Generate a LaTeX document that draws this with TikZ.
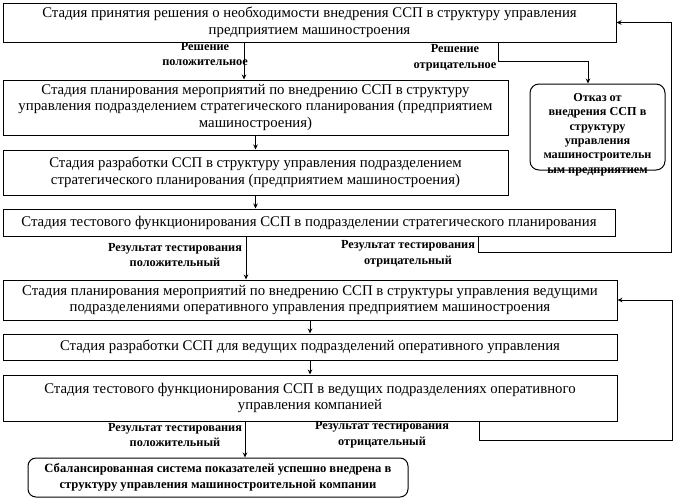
\documentclass[tikz,border=0pt]{standalone}
\usepackage{fontspec}
\setmainfont{Liberation Serif}
\usetikzlibrary{arrows.meta}

\tikzset{
  stagebox/.style={draw, line width=1pt, inner sep=0pt, align=center,
    font=\fontsize{14.8}{16.5}\selectfont},
  endbox/.style={draw, line width=1pt, rounded corners=9pt, inner sep=0pt,
    align=center, font=\fontsize{12}{14.6}\selectfont\bfseries},
  endtext/.style={align=center, inner sep=0pt, font=\fontsize{12.2}{14.4}\selectfont\bfseries},
  lbl/.style={align=center, inner sep=0pt, font=\fontsize{12.3}{15.5}\selectfont\bfseries},
  arr/.style={-{Stealth[length=5pt,width=4.5pt]}, line width=0.9pt}
}

\begin{document}
\begin{tikzpicture}[x=1pt, y=-1pt]

\useasboundingbox (0,0) rectangle (674,499);

% этапы внедрения в подразделении стратегического планирования
\node[stagebox, minimum width=613, minimum height=39] (b1) at (309.5,22.5)
  {Стадия принятия решения о необходимости внедрения ССП в структуру управления\\
   предприятием машиностроения};
\node[stagebox, minimum width=505, minimum height=55] (b2) at (255.5,107.5)
  {Стадия планирования мероприятий по внедрению ССП в структуру\\
   управления подразделением стратегического планирования (предприятием\\
   машиностроения)};
\node[stagebox, minimum width=505, minimum height=45] (b3) at (255.5,172.5)
  {Стадия разработки ССП в структуру управления подразделением\\
   стратегического планирования (предприятием машиностроения)};
\node[stagebox, minimum width=612, minimum height=27] (b4) at (309,222.5)
  {Стадия тестового функционирования ССП в подразделении стратегического планирования};

% отказ от внедрения (текст чуть ниже центра, последняя строка на рамке)
\node[endbox, minimum width=135, minimum height=86] (refusal) at (597.5,127) {};
\node[endtext] (refusaltext) at (597.5,134.5)
  {Отказ от\\ внедрения ССП в\\ структуру\\ управления\\ машиностроительн\\ ым предприятием};

% этапы внедрения в ведущих подразделениях
\node[stagebox, minimum width=614, minimum height=40] (b5) at (310,300)
  {Стадия планирования мероприятий по внедрению ССП в структуры управления ведущими\\
   подразделениями оперативного управления предприятием машиностроения};
\node[stagebox, minimum width=614, minimum height=26] (b6) at (310,347)
  {Стадия разработки ССП для ведущих подразделений оперативного управления};
\node[stagebox, minimum width=614, minimum height=46] (b7) at (310,398)
  {Стадия тестового функционирования ССП в ведущих подразделениях оперативного\\
   управления компанией};

% итог
\node[endbox, rounded corners=8pt, font=\fontsize{12.6}{16}\selectfont\bfseries,
  minimum width=380, minimum height=39] (done) at (218,477.5)
  {Сбалансированная система показателей успешно внедрена в\\
   структуру управления машиностроительной компании};

% подписи к стрелкам
\node[lbl] (yes1) at (205,54) {Решение\\ положительное};
\node[lbl] (no1) at (455,58) {Решение\\ отрицательное};
\node[lbl] (yes2) at (175,255) {Результат тестирования\\ положительный};
\node[lbl] (no2) at (408,254) {Результат тестирования\\ отрицательный};
\node[lbl] (yes3) at (175,435) {Результат тестирования\\ положительный};
\node[lbl] (no3) at (382,435) {Результат тестирования\\ отрицательный};

% точки обратных связей
\coordinate (back1) at (671,252);
\coordinate (back2) at (672,440);

% стрелки вниз
\draw[arr] ([xshift=-65.5pt]b1.south) -- ([xshift=-65.5pt]b1.south |- b2.north);
\draw[arr] (b2.south) -- (b3.north);
\draw[arr] (b3.south) -- (b3.south |- b4.north);
\draw[arr] ([xshift=-63pt]b4.south) -- ([xshift=-63pt]b4.south |- b5.north);
\draw[arr] (b5.south) -- (b6.north);
\draw[arr] (b6.south) -- (b7.north);
\draw[arr] ([xshift=-65pt]b7.south) -- ([xshift=-65pt]b7.south |- done.north);

% отрицательные решения
\draw[arr] ([xshift=188.5pt]b1.south) -- ++(0,19) -| ([xshift=-9.5pt]refusal.north);
\draw[arr] ([xshift=169pt]b4.south) |- (back1) |- (b1.east);
\draw[arr] ([xshift=169pt]b7.south) |- (back2) |- (b5.east);

\end{tikzpicture}
\end{document}
